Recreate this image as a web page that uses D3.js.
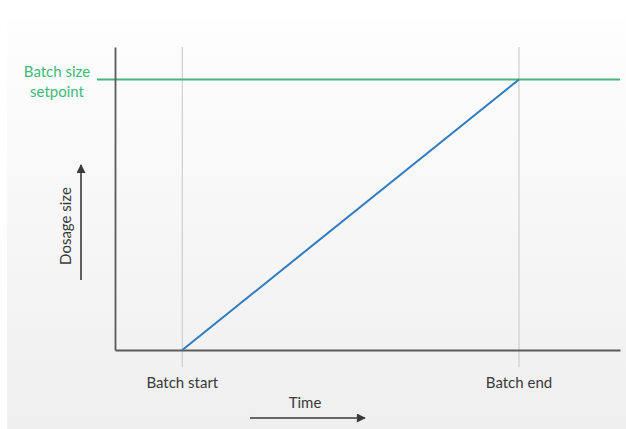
<!DOCTYPE html>
<html>
<head>
<meta charset="utf-8">
<script src="https://cdn.jsdelivr.net/npm/d3@7"></script>
<style>
  html, body { margin: 0; padding: 0; background: #ffffff; }
  svg { display: block; }
  text { font-family: Lato, "Open Sans", sans-serif; }
</style>
</head>
<body>
<svg id="chart" width="626" height="429"></svg>
<script>
// Time points (normalised) and dosage values along the batch ramp
const timeLabels = ["Batch start", "Batch end"];
const timeValues = [0, 1];
const dosageValues = [0, 1];
const setpointValue = 1;
const setpointLabel = ["Batch size", "setpoint"];
const yAxisLabel = "Dosage size";
const xAxisLabel = "Time";

const svg = d3.select("#chart");
const W = 626, H = 429;
const FS = 15;

// Soft panel background
const defs = svg.append("defs");
const grad = defs.append("linearGradient").attr("id", "bg").attr("x1", 0).attr("y1", 0).attr("x2", 0).attr("y2", 1);
grad.append("stop").attr("offset", "0%").attr("stop-color", "#fefefe");
grad.append("stop").attr("offset", "100%").attr("stop-color", "#efefef");
svg.append("rect").attr("x", 7).attr("y", 17).attr("width", W - 7).attr("height", H - 17).attr("fill", "url(#bg)");

const x = d3.scaleLinear().domain([-0.2, 1.3]).range([115, 620]);
const y = d3.scaleLinear().domain([0, 1.12]).range([350, 47]);

// Vertical reference lines at batch start/end
svg.selectAll("line.grid").data(timeValues).enter().append("line")
  .attr("class", "grid")
  .attr("x1", d => x(d)).attr("x2", d => x(d))
  .attr("y1", y(1.12)).attr("y2", 367)
  .attr("stroke", "#cfcfcf").attr("stroke-width", 1.2);

// Setpoint line
svg.append("line")
  .attr("x1", 97).attr("x2", 620)
  .attr("y1", y(setpointValue)).attr("y2", y(setpointValue))
  .attr("stroke", "#4db47a").attr("stroke-width", 2);

// Axes (no ticks)
const gx = svg.append("g").attr("transform", `translate(0,${y(0)})`)
  .call(d3.axisBottom(x).tickValues([]).tickSizeOuter(0));
const gy = svg.append("g").attr("transform", `translate(${x(-0.2)},0)`)
  .call(d3.axisLeft(y).tickValues([]).tickSizeOuter(0));
[gx, gy].forEach(g => g.select(".domain").attr("stroke", "#5a5a5a").attr("stroke-width", 1.8));

// Dosage ramp
const line = d3.line().x((d, i) => x(timeValues[i])).y(d => y(d));
svg.append("path").datum(dosageValues)
  .attr("d", line).attr("fill", "none")
  .attr("stroke", "#2f7bbf").attr("stroke-width", 2);

// Time labels
svg.selectAll("text.tl").data(timeLabels).enter().append("text")
  .attr("class", "tl")
  .attr("x", (d, i) => x(timeValues[i])).attr("y", 388)
  .attr("text-anchor", "middle").attr("font-size", FS).attr("fill", "#3a3a3a")
  .text(d => d);

// Setpoint label
svg.selectAll("text.sp").data(setpointLabel).enter().append("text")
  .attr("class", "sp")
  .attr("x", 57).attr("y", (d, i) => 77 + i * 19.5)
  .attr("text-anchor", "middle").attr("font-size", FS).attr("fill", "#3dba79")
  .text(d => d);

// Arrowhead marker
defs.append("marker").attr("id", "arrow").attr("viewBox", "0 0 10 10")
  .attr("refX", 9).attr("refY", 5).attr("markerWidth", 10).attr("markerHeight", 9)
  .attr("markerUnits", "userSpaceOnUse").attr("orient", "auto")
  .append("path").attr("d", "M0,0 L10,5 L0,10 z").attr("fill", "#3a3a3a");

// Y axis title with arrow
svg.append("text")
  .attr("transform", "translate(71,226) rotate(-90)")
  .attr("text-anchor", "middle").attr("font-size", FS).attr("fill", "#3a3a3a")
  .text(yAxisLabel);
svg.append("line").attr("x1", 81).attr("x2", 81).attr("y1", 280).attr("y2", 165)
  .attr("stroke", "#3a3a3a").attr("stroke-width", 1.6).attr("marker-end", "url(#arrow)");

// X axis title with arrow
svg.append("text")
  .attr("x", 305).attr("y", 408)
  .attr("text-anchor", "middle").attr("font-size", FS).attr("fill", "#3a3a3a")
  .text(xAxisLabel);
svg.append("line").attr("x1", 250).attr("x2", 365).attr("y1", 418).attr("y2", 418)
  .attr("stroke", "#3a3a3a").attr("stroke-width", 1.6).attr("marker-end", "url(#arrow)");
</script>
</body>
</html>
